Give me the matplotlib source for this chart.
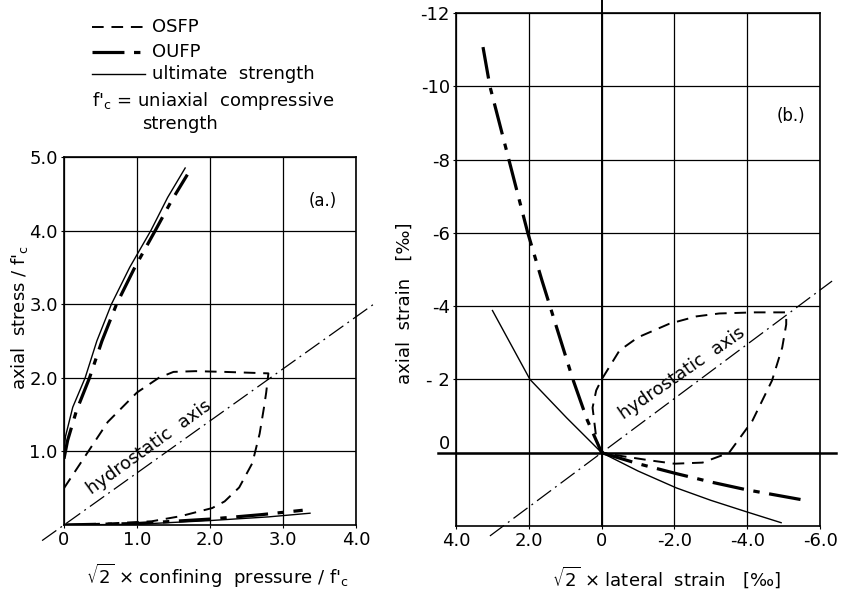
import matplotlib.pyplot as plt
import numpy as np

plt.rcParams['font.family'] = ['DejaVu Sans']
fontsize = 13

# ----- panel (a): axial stress vs sqrt2 * confining pressure -----
a_ult_x = [0.0, 0.02, 0.12, 0.29, 0.45, 0.65, 0.90, 1.19, 1.42, 1.66]
a_ult_y = [1.0, 1.2, 1.6, 2.0, 2.5, 3.0, 3.5, 4.0, 4.45, 4.85]
a_oufp_x = [0.0, 0.05, 0.17, 0.35, 0.52, 0.72, 0.97, 1.25, 1.47, 1.69]
a_oufp_y = [0.9, 1.15, 1.55, 2.0, 2.5, 3.0, 3.5, 4.0, 4.4, 4.76]
a_osfp_x = [0.0, 0.3, 0.6, 1.0, 1.3, 1.5, 1.8, 2.2, 2.8, 2.77, 2.74, 2.68, 2.58,
            2.4, 2.2, 2.03, 1.6, 1.2, 0.6, 0.0]
a_osfp_y = [0.5, 0.95, 1.4, 1.8, 2.0, 2.08, 2.09, 2.08, 2.06, 1.8, 1.6, 1.24, 0.84,
            0.51, 0.32, 0.23, 0.12, 0.05, 0.02, 0.0]
a_ult_low_x = [0.0, 1.0, 2.0, 2.8, 3.37]
a_ult_low_y = [0.0, 0.01, 0.06, 0.11, 0.16]
a_oufp_low_x = [0.0, 1.0, 2.0, 2.7, 3.27]
a_oufp_low_y = [0.0, 0.02, 0.08, 0.14, 0.2]
a_hydro_x = [-0.3, 4.26]

# ----- panel (b): axial strain vs sqrt2 * lateral strain -----
b_oufp_up_x = [3.26, 3.07, 2.55, 2.03, 1.64, 1.2, 0.79, 0.4, 0.0]
b_oufp_up_y = [-11.07, -10.0, -8.0, -6.0, -4.7, -3.3, -2.0, -0.9, 0.0]
b_oufp_lo_x = [0.0, -1.0, -2.05, -3.0, -3.97, -5.48]
b_oufp_lo_y = [0.0, 0.3, 0.57, 0.8, 1.01, 1.28]
b_ult_up_x = [3.0, 1.97, 0.96, 0.0]
b_ult_up_y = [-3.88, -2.0, -0.95, 0.0]
b_ult_lo_x = [0.0, -1.0, -2.05, -3.0, -3.97, -4.93]
b_ult_lo_y = [0.0, 0.5, 0.96, 1.3, 1.61, 1.91]
b_osfp_x = [0.0, 0.14, 0.25, 0.15, 0.0, -0.49, -1.0, -1.86, -2.6, -3.23, -4.2, -5.07,
            -5.07, -4.96, -4.68, -4.14, -3.5, -2.77, -2.0, -1.4, -0.6, 0.0]
b_osfp_y = [0.0, -0.33, -1.23, -1.7, -2.0, -2.79, -3.15, -3.52, -3.72, -3.8, -3.83, -3.83,
            -3.5, -2.87, -1.97, -0.87, 0.0, 0.27, 0.3, 0.22, 0.1, 0.0]
b_hydro_x = [3.07, -6.33]

dashed = dict(color="black", lw=1.4, dashes=(6, 4))
dashdot = dict(color="black", lw=2.3, dashes=(10, 3, 2, 3))
solid = dict(color="black", lw=1.0)
hydro = dict(color="black", lw=0.9, dashes=(14, 4, 1.5, 4))

fc = r"f$'_\mathregular{c}$"

fig = plt.figure(figsize=(8.43, 5.91), dpi=100)
ax1 = fig.add_axes([0.0759, 0.1117, 0.3464, 0.6227])
ax2 = fig.add_axes([0.541, 0.110, 0.4318, 0.868])

# --- (a) ---
ax1.plot(a_ult_x, a_ult_y, **solid)
ax1.plot(a_oufp_x, a_oufp_y, **dashdot)
ax1.plot(a_osfp_x, a_osfp_y, **dashed)
ax1.plot(a_ult_low_x, a_ult_low_y, **solid)
ax1.plot(a_oufp_low_x, a_oufp_low_y, **dashdot)
hx = np.array(a_hydro_x)
ax1.plot(hx, hx / np.sqrt(2), clip_on=False, **hydro)
ax1.set_xlim(0, 4)
ax1.set_ylim(0, 5)
ax1.set_xticks([0, 1, 2, 3, 4])
ax1.set_xticklabels(["0", "1.0", "2.0", "3.0", "4.0"])
ax1.set_yticks([1, 2, 3, 4, 5])
ax1.set_yticklabels(["1.0", "2.0", "3.0", "4.0", "5.0"])
ax1.grid(color="black", lw=0.9)
ax1.set_xlabel(r"$\sqrt{2}$ × confining  pressure / " + fc, fontsize=fontsize)
ax1.xaxis.set_label_coords(0.525, -0.1)
ax1.set_ylabel("axial  stress / " + fc, fontsize=fontsize)
ax1.yaxis.set_label_coords(-0.118, 0.5625)
ax1.text(3.55, 4.4, "(a.)", fontsize=fontsize - 1, ha="center", va="center")
ax1.text(1.17, 1.06, "hydrostatic  axis", rotation=35.7, fontsize=fontsize,
         ha="center", va="center", rotation_mode="anchor")

# --- (b) ---
ax2.plot(b_oufp_up_x, b_oufp_up_y, **dashdot)
ax2.plot(b_oufp_lo_x, b_oufp_lo_y, **dashdot)
ax2.plot(b_ult_up_x, b_ult_up_y, **solid)
ax2.plot(b_ult_lo_x, b_ult_lo_y, **solid)
ax2.plot(b_osfp_x, b_osfp_y, **dashed)
hx = np.array(b_hydro_x)
ax2.plot(hx, hx * 0.74, clip_on=False, **hydro)
ax2.axhline(0, xmin=-0.05, xmax=1.045, color="black", lw=1.8, clip_on=False)
ax2.axvline(0, ymin=0, ymax=1.025, color="black", lw=1.4, clip_on=False)
ax2.set_xlim(4, -6)
ax2.set_ylim(2, -12)
ax2.set_xticks([4, 2, 0, -2, -4, -6])
ax2.set_xticklabels(["4.0", "2.0", "0", "-2.0", "-4.0", "-6.0"])
ax2.set_yticks([-12, -10, -8, -6, -4, -2, 0])
ax2.set_yticklabels(["-12", "-10", "-8", "-6", "-4", "- 2", "0"])
for lab in ax2.get_yticklabels():
    if lab.get_text() == "0":
        lab.set_va("bottom")
ax2.grid(color="black", lw=0.9)
ax2.set_xlabel(r"$\sqrt{2}$ × lateral  strain   [‰]", fontsize=fontsize)
ax2.xaxis.set_label_coords(0.577, -0.075)
ax2.set_ylabel("axial  strain   [‰]", fontsize=fontsize)
ax2.yaxis.set_label_coords(-0.115, 0.435)
ax2.text(-5.2, -9.2, "(b.)", fontsize=fontsize - 1, ha="center", va="center")
ax2.text(-2.22, -2.18, "hydrostatic  axis", rotation=34.7, fontsize=fontsize,
         ha="center", va="center", rotation_mode="anchor")

for ax in (ax1, ax2):
    ax.tick_params(labelsize=fontsize, length=2, pad=2.5, color="black")
    for s in ax.spines.values():
        s.set_linewidth(1.2)

# ----- legend block at top left -----
lx0, lx1 = 92 / 843, 145 / 843
rows = [(1 - 27 / 591, dashed, "OSFP"), (1 - 52 / 591, dashdot, "OUFP"),
        (1 - 74 / 591, solid, "ultimate  strength")]
for y, style, label in rows:
    fig.add_artist(plt.Line2D([lx0, lx1], [y, y], transform=fig.transFigure, **style))
    fig.text(152 / 843, y, label, fontsize=fontsize, va="center", ha="left")
fig.text(92 / 843, 1 - 101 / 591, fc + " = uniaxial  compressive", fontsize=fontsize,
         va="center", ha="left")
fig.text(142 / 843, 1 - 124 / 591, "strength", fontsize=fontsize, va="center", ha="left")

plt.savefig("out.png", dpi=100)
